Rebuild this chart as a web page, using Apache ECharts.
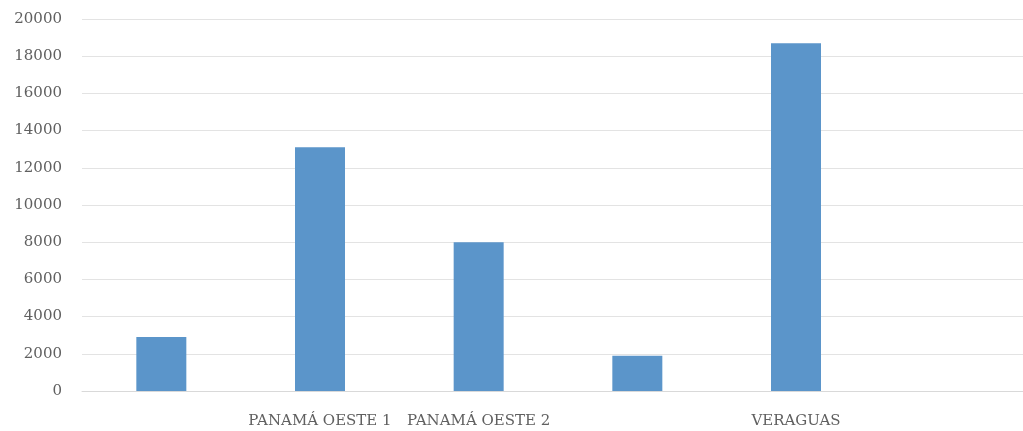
<!DOCTYPE html>
<html>
<head>
<meta charset="utf-8">
<script src="https://cdn.jsdelivr.net/npm/echarts@6/dist/echarts.min.js"></script>
<style>
html,body{margin:0;padding:0;background:#fff;}
#c{width:1023px;height:431px;}
</style>
</head>
<body>
<div id="c"></div>
<script>
var categories = ['', 'PANAMÁ OESTE 1', 'PANAMÁ OESTE 2', '', 'VERAGUAS', ''];
var values = [2900, 13100, 8000, 1900, 18700, null];
var yMin = 0, yMax = 20000, yStep = 2000;

var chart = echarts.init(document.getElementById('c'), null, {renderer: 'canvas'});
chart.setOption({
  animation: false,
  backgroundColor: '#ffffff',
  grid: {left: 82, right: -11, top: 19, bottom: 40, containLabel: false, outerBoundsMode: 'none'},
  xAxis: {
    type: 'category',
    data: categories,
    axisTick: {show: false},
    axisLine: {show: true, lineStyle: {color: '#d9d9d9', width: 1}},
    axisLabel: {interval: 0, margin: 23, color: '#606060', fontFamily: 'DejaVu Serif', fontSize: 15}
  },
  yAxis: {
    type: 'value',
    min: yMin, max: yMax, interval: yStep,
    axisLine: {show: false},
    axisTick: {show: false},
    splitLine: {lineStyle: {color: '#e3e3e3', width: 1}},
    axisLabel: {margin: 20, color: '#606060', fontFamily: 'DejaVu Serif', fontSize: 15,
      formatter: function (v) { return String(v); }}
  },
  series: [{
    type: 'bar',
    data: values,
    barWidth: 50,
    itemStyle: {color: '#5b95ca'}
  }]
});
</script>
</body>
</html>
